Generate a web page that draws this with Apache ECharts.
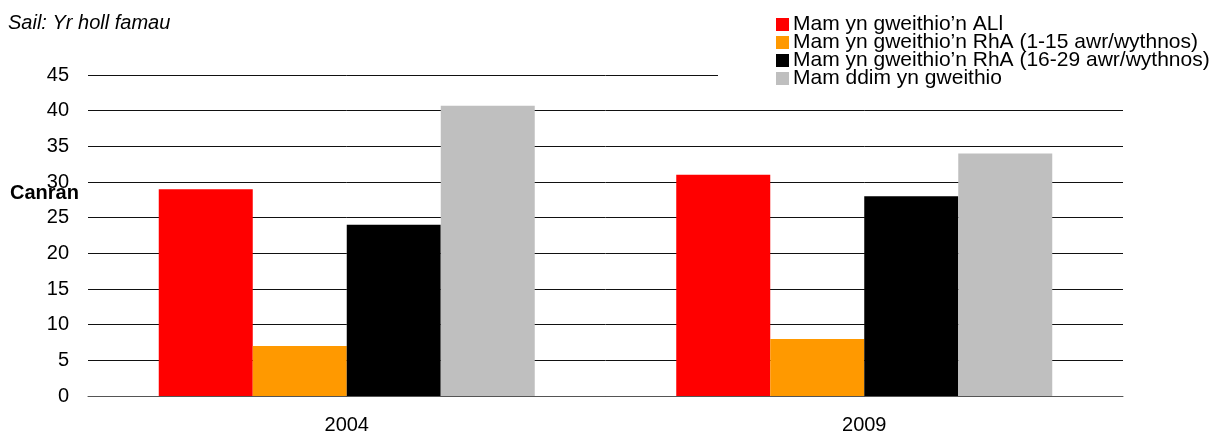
<!DOCTYPE html>
<html>
<head>
<meta charset="utf-8">
<script src="https://cdn.jsdelivr.net/npm/echarts@6/dist/echarts.min.js"></script>
<style>
  html, body { margin: 0; padding: 0; background: #fff; }
  #chart { width: 1209px; height: 435px; }
</style>
</head>
<body>
<div id="chart"></div>
<script>
var years = ["2004", "2009"];
var seriesNames = [
  "Mam yn gweithio\u2019n ALl",
  "Mam yn gweithio\u2019n RhA (1-15 awr/wythnos)",
  "Mam yn gweithio\u2019n RhA (16-29 awr/wythnos)",
  "Mam ddim yn gweithio"
];
var fullTime = [29, 31];
var partShort = [7, 8];
var partLong = [24, 28];
var notWorking = [40.7, 34];
var colors = ["#ff0000", "#ff9900", "#000000", "#bfbfbf"];

var values = [fullTime, partShort, partLong, notWorking];
var font = "Liberation Sans, Arial, sans-serif";

var series = [];
for (var i = 0; i < values.length; i++) {
  series.push({
    name: seriesNames[i],
    type: "bar",
    data: values[i],
    barWidth: 94,
    barGap: "0%",
    itemStyle: { color: colors[i] },
    emphasis: { disabled: true }
  });
}

var myChart = echarts.init(document.getElementById("chart"));
var option = {
  animation: false,
  color: colors,
  title: [
    {
      text: "Sail: Yr holl famau",
      left: 3, top: 8,
      textStyle: { fontFamily: font, fontSize: 20, fontStyle: "italic", fontWeight: "normal", color: "#000" }
    },
    {
      text: "Canran",
      left: 5, top: 178,
      textStyle: { fontFamily: font, fontSize: 20, fontWeight: "bold", color: "#000" }
    }
  ],
  legend: {
    orient: "vertical",
    left: 718,
    top: 12,
    itemWidth: 13,
    itemHeight: 13,
    itemGap: -3,
    itemStyle: { borderWidth: 0 },
    padding: [2, 0, 8, 58],
    backgroundColor: "#fff",
    icon: "rect",
    data: seriesNames,
    textStyle: { fontFamily: font, fontSize: 21, color: "#000", lineHeight: 18, padding: [0, 0, 0, -1] }
  },
  grid: { left: 88, right: 86, top: 75, bottom: 38 },
  xAxis: {
    type: "category",
    data: years,
    axisTick: { show: false },
    axisLine: { lineStyle: { color: "#555", width: 1 } },
    axisLabel: { fontFamily: font, fontSize: 20, color: "#000", margin: 19 }
  },
  yAxis: {
    type: "value",
    min: 0,
    max: 45,
    interval: 5,
    axisLine: { show: false },
    axisTick: { show: false },
    axisLabel: { fontFamily: font, fontSize: 20, color: "#000", margin: 19 },
    splitLine: { lineStyle: { color: "#111", width: 1 } }
  },
  series: series
};
myChart.setOption(option);
window.addEventListener("resize", function () {
  myChart.resize();
});
</script>
</body>
</html>
